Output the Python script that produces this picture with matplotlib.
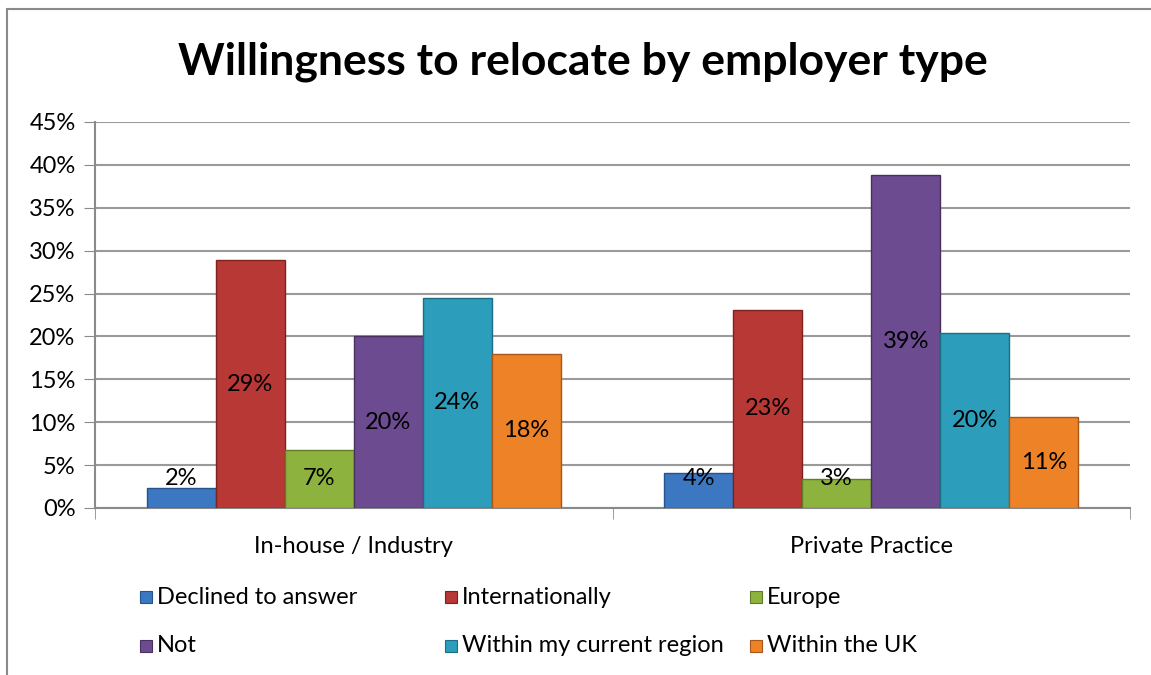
import matplotlib.pyplot as plt
import numpy as np
from matplotlib.patches import Rectangle

plt.rcParams['font.family'] = ['Lato', 'DejaVu Sans']

categories = ['In-house / Industry', 'Private Practice']
series = ['Declined to answer', 'Internationally', 'Europe', 'Not',
          'Within my current region', 'Within the UK']
values = {
    'Declined to answer': [2.3, 4.1],
    'Internationally': [28.9, 23.1],
    'Europe': [6.8, 3.4],
    'Not': [20.0, 38.8],
    'Within my current region': [24.5, 20.4],
    'Within the UK': [18.0, 10.6],
}
colors = ['#3C78C2', '#B83836', '#8DB33E', '#6C4B91', '#2C9DBA', '#EE8227']
edges = ['#24538E', '#7E2220', '#5E7D24', '#49305F', '#1B6E85', '#A9561A']

fig = plt.figure(figsize=(11.51, 6.75), dpi=100)
fig.patches.append(Rectangle((7 / 1151, -0.1), 1.2, 1 - 9 / 675 + 0.1,
                             transform=fig.transFigure, fill=False,
                             edgecolor='#8a8a8a', linewidth=1.5))

ax = fig.add_axes([95 / 1151, 1 - 508 / 675, (1130 - 95) / 1151, (508 - 122) / 675])

x = np.arange(len(categories))
w = 0.8 / len(series)
for i, s in enumerate(series):
    pos = x - 0.4 + w * (i + 0.5)
    vals = values[s]
    ax.bar(pos, vals, width=w, color=colors[i], edgecolor=edges[i],
           linewidth=1.0, zorder=3)
    for p, v in zip(pos, vals):
        ax.text(p, max(v / 2, 3.4), f'{round(v):.0f}%', ha='center', va='center',
                fontsize=17, color='black', zorder=4)

ax.set_xlim(-0.5, 1.5)
ax.set_ylim(0, 45)
ax.set_yticks(np.arange(0, 46, 5))
ax.set_yticklabels([f'{t}%' for t in range(0, 46, 5)], fontsize=17)
ax.set_xticks(x)
ax.set_xticklabels(categories, fontsize=17)
ax.tick_params(axis='x', length=0, pad=20)
ax.tick_params(axis='y', length=8, color='#8a8a8a', pad=6)
ax.set_xticks([-0.5, 0.5, 1.5], minor=True)
ax.tick_params(axis='x', which='minor', length=8, color='#8a8a8a')
ax.grid(axis='y', color='#9a9a9a', linewidth=1.5, zorder=0)
for side in ['top', 'right']:
    ax.spines[side].set_visible(False)
for side in ['left', 'bottom']:
    ax.spines[side].set_color('#8a8a8a')
    ax.spines[side].set_linewidth(1.5)

fig.text(583 / 1151, 1 - 62 / 675, 'Willingness to relocate by employer type',
         ha='center', va='center', fontsize=32, fontweight='bold')

# legend laid out in rows like the original
col_x = [140, 445, 750]
row_y = [597, 646]
for i, s in enumerate(series):
    cx = col_x[i % 3]
    cy = row_y[i // 3]
    fig.patches.append(Rectangle((cx / 1151, 1 - (cy + 6) / 675), 12 / 1151, 12 / 675,
                                 transform=fig.transFigure, facecolor=colors[i],
                                 edgecolor=edges[i], linewidth=0.8))
    fig.text((cx + 17) / 1151, 1 - cy / 675, s, ha='left', va='center', fontsize=17)

fig.savefig('out.png', dpi=100)
